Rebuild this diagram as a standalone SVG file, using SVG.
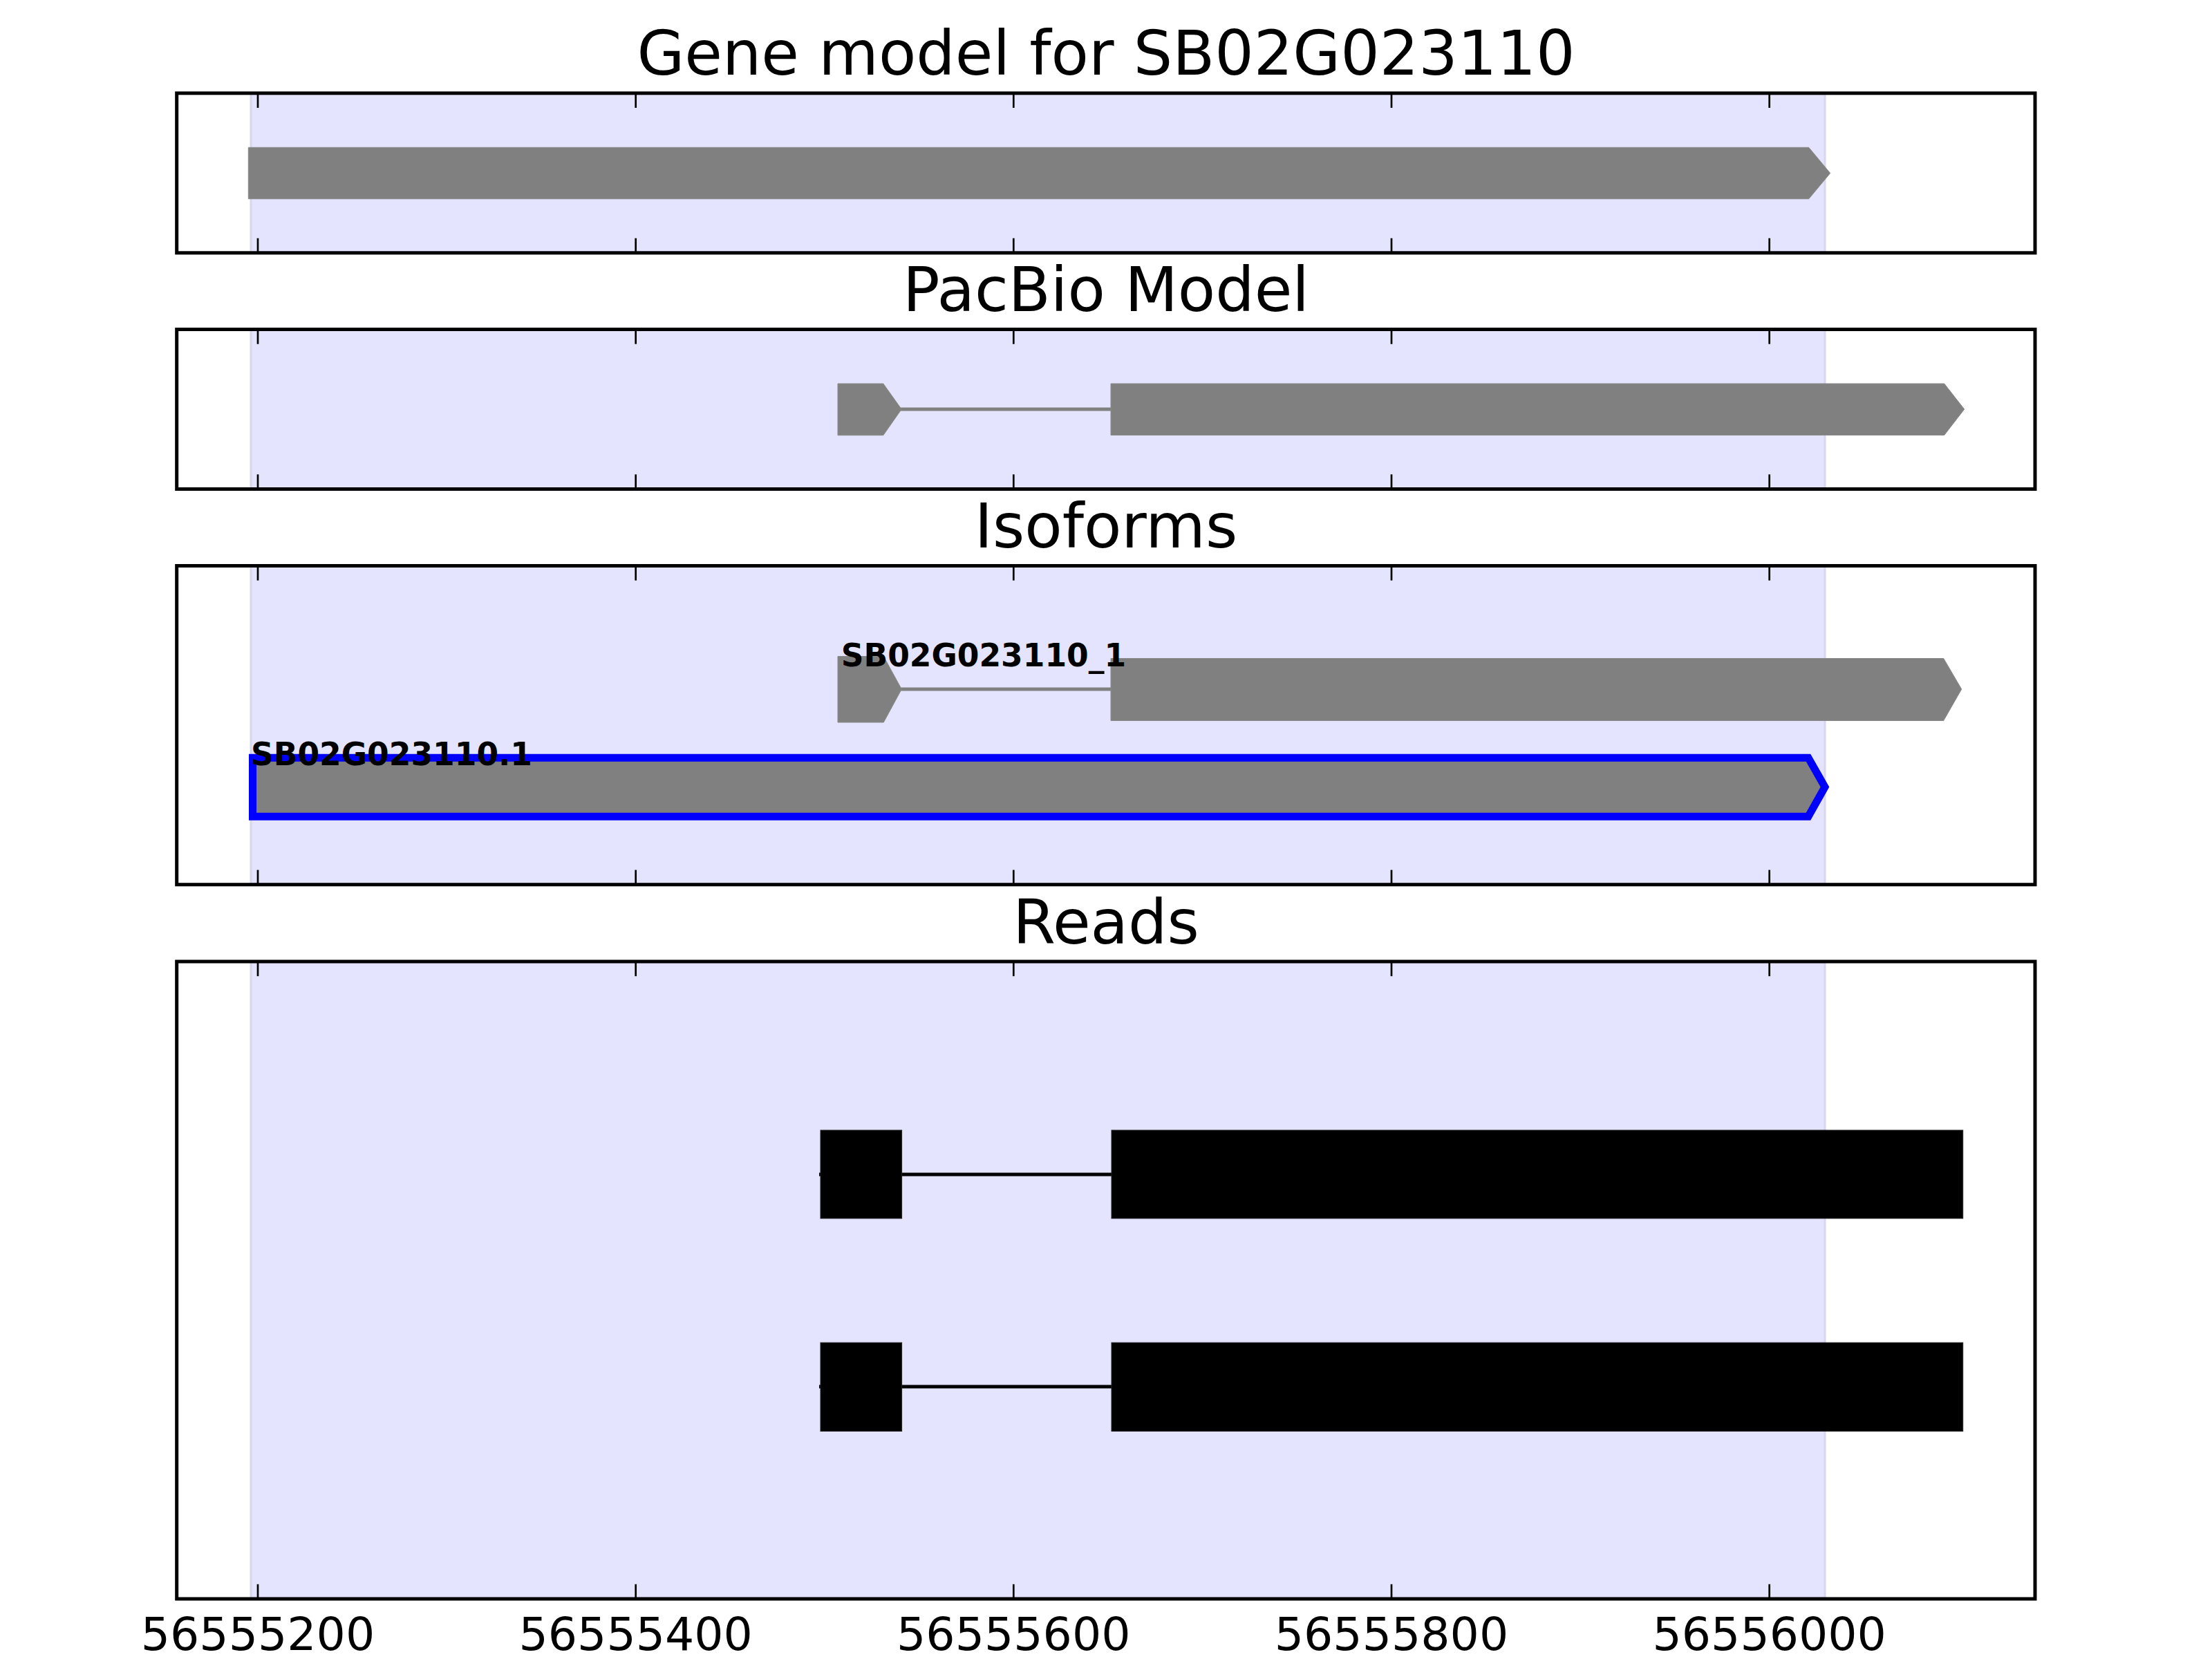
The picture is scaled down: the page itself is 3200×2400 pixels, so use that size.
<svg xmlns="http://www.w3.org/2000/svg" width="3200" height="2400" viewBox="0 0 3200 2400">
<style>
.title{font-family:"DejaVu Sans",sans-serif;font-size:88.9px;text-anchor:middle;fill:#000}
.tick{font-family:"DejaVu Sans",sans-serif;font-size:66.5px;text-anchor:middle;fill:#000}
.lbl{font-family:"DejaVu Sans",sans-serif;font-size:45.5px;font-weight:bold;fill:#000}
.frame{fill:none;stroke:#000;stroke-width:5}
.bg{fill:#fff}
.shade{fill:#e4e4fe;stroke:#d6d6ec;stroke-width:3}
.exon{fill:#808080;stroke:#8a8a8a;stroke-width:1}
.intron{stroke:#808080;stroke-width:5;fill:none}
.read{fill:#000;stroke:#222;stroke-width:1}
.rline{stroke:#000;stroke-width:5;fill:none}
.tk{stroke:#000;stroke-width:2.7}
</style>
<rect width="3200" height="2400" fill="#fff"/>

<g id="panel-gene-model">
<rect class="bg" x="255.7" y="134.8" width="2688.3" height="231"/>
<rect class="shade" x="363" y="134.8" width="2277" height="231"/>
<polygon class="exon" points="359.3,213.3 2616.7,213.3 2647.7,250.5 2616.7,287.7 359.3,287.7"/>
<g class="tk">
<line x1="373" y1="134.8" x2="373" y2="156"/><line x1="919.7" y1="134.8" x2="919.7" y2="156"/><line x1="1466.3" y1="134.8" x2="1466.3" y2="156"/><line x1="2013" y1="134.8" x2="2013" y2="156"/><line x1="2559.7" y1="134.8" x2="2559.7" y2="156"/>
<line x1="373" y1="365.8" x2="373" y2="344.6"/><line x1="919.7" y1="365.8" x2="919.7" y2="344.6"/><line x1="1466.3" y1="365.8" x2="1466.3" y2="344.6"/><line x1="2013" y1="365.8" x2="2013" y2="344.6"/><line x1="2559.7" y1="365.8" x2="2559.7" y2="344.6"/>
</g>
<rect class="frame" x="255.7" y="134.8" width="2688.3" height="231"/>
<text class="title" x="1600" y="108.3">Gene model for SB02G023110</text>
</g>

<g id="panel-pacbio">
<rect class="bg" x="255.7" y="476.5" width="2688.3" height="231"/>
<rect class="shade" x="363" y="476.5" width="2277" height="231"/>
<line class="intron" x1="1300" y1="592" x2="1610" y2="592"/>
<polygon class="exon" points="1212,555 1277.8,555 1304.2,592 1277.8,629.7 1212,629.7"/>
<polygon class="exon" points="1607,555 2812.7,555 2841.7,592 2812.7,629.5 1607,629.5"/>
<g class="tk">
<line x1="373" y1="476.5" x2="373" y2="497.7"/><line x1="919.7" y1="476.5" x2="919.7" y2="497.7"/><line x1="1466.3" y1="476.5" x2="1466.3" y2="497.7"/><line x1="2013" y1="476.5" x2="2013" y2="497.7"/><line x1="2559.7" y1="476.5" x2="2559.7" y2="497.7"/>
<line x1="373" y1="707.5" x2="373" y2="686.3"/><line x1="919.7" y1="707.5" x2="919.7" y2="686.3"/><line x1="1466.3" y1="707.5" x2="1466.3" y2="686.3"/><line x1="2013" y1="707.5" x2="2013" y2="686.3"/><line x1="2559.7" y1="707.5" x2="2559.7" y2="686.3"/>
</g>
<rect class="frame" x="255.7" y="476.5" width="2688.3" height="231"/>
<text class="title" x="1600" y="450">PacBio Model</text>
</g>

<g id="panel-isoforms">
<rect class="bg" x="255.7" y="818.5" width="2688.3" height="461.2"/>
<rect class="shade" x="363" y="818.5" width="2277" height="461.2"/>
<line class="intron" x1="1300" y1="997" x2="1610" y2="997"/>
<polygon class="exon" points="1212,949.5 1278.3,949.5 1304.3,997 1278.3,1045 1212,1045"/>
<polygon class="exon" points="1607,952.5 2811.7,952.5 2837.7,997 2811.7,1042.5 1607,1042.5"/>
<polygon points="365.5,1096.2 2616,1096.2 2640,1138.5 2616,1181.2 365.5,1181.2" fill="#808080" stroke="#0000ff" stroke-width="11"/>
<text class="lbl" x="1216.7" y="964">SB02G023110_1</text>
<text class="lbl" x="363" y="1106.7">SB02G023110.1</text>
<g class="tk">
<line x1="373" y1="818.5" x2="373" y2="839.7"/><line x1="919.7" y1="818.5" x2="919.7" y2="839.7"/><line x1="1466.3" y1="818.5" x2="1466.3" y2="839.7"/><line x1="2013" y1="818.5" x2="2013" y2="839.7"/><line x1="2559.7" y1="818.5" x2="2559.7" y2="839.7"/>
<line x1="373" y1="1279.7" x2="373" y2="1258.5"/><line x1="919.7" y1="1279.7" x2="919.7" y2="1258.5"/><line x1="1466.3" y1="1279.7" x2="1466.3" y2="1258.5"/><line x1="2013" y1="1279.7" x2="2013" y2="1258.5"/><line x1="2559.7" y1="1279.7" x2="2559.7" y2="1258.5"/>
</g>
<rect class="frame" x="255.7" y="818.5" width="2688.3" height="461.2"/>
<text class="title" x="1600" y="792">Isoforms</text>
</g>

<g id="panel-reads">
<rect class="bg" x="255.7" y="1391" width="2688.3" height="922"/>
<rect class="shade" x="363" y="1391" width="2277" height="922"/>
<line class="rline" x1="1185" y1="1699" x2="1610" y2="1699"/>
<rect class="read" x="1187" y="1635" width="117.6" height="127.7"/>
<rect class="read" x="1608" y="1635" width="1231.7" height="127.7"/>
<line class="rline" x1="1185" y1="2006" x2="1610" y2="2006"/>
<rect class="read" x="1187" y="1942.3" width="117.6" height="128.2"/>
<rect class="read" x="1608" y="1942.3" width="1231.7" height="128.2"/>
<g class="tk">
<line x1="373" y1="1391" x2="373" y2="1412.2"/><line x1="919.7" y1="1391" x2="919.7" y2="1412.2"/><line x1="1466.3" y1="1391" x2="1466.3" y2="1412.2"/><line x1="2013" y1="1391" x2="2013" y2="1412.2"/><line x1="2559.7" y1="1391" x2="2559.7" y2="1412.2"/>
<line x1="373" y1="2313" x2="373" y2="2291.8"/><line x1="919.7" y1="2313" x2="919.7" y2="2291.8"/><line x1="1466.3" y1="2313" x2="1466.3" y2="2291.8"/><line x1="2013" y1="2313" x2="2013" y2="2291.8"/><line x1="2559.7" y1="2313" x2="2559.7" y2="2291.8"/>
</g>
<rect class="frame" x="255.7" y="1391" width="2688.3" height="922"/>
<text class="title" x="1600" y="1364.5">Reads</text>
<text class="tick" x="373" y="2386.5">56555200</text>
<text class="tick" x="919.7" y="2386.5">56555400</text>
<text class="tick" x="1466.3" y="2386.5">56555600</text>
<text class="tick" x="2013" y="2386.5">56555800</text>
<text class="tick" x="2559.7" y="2386.5">56556000</text>
</g>

<g id="connectors"></g>
</svg>
